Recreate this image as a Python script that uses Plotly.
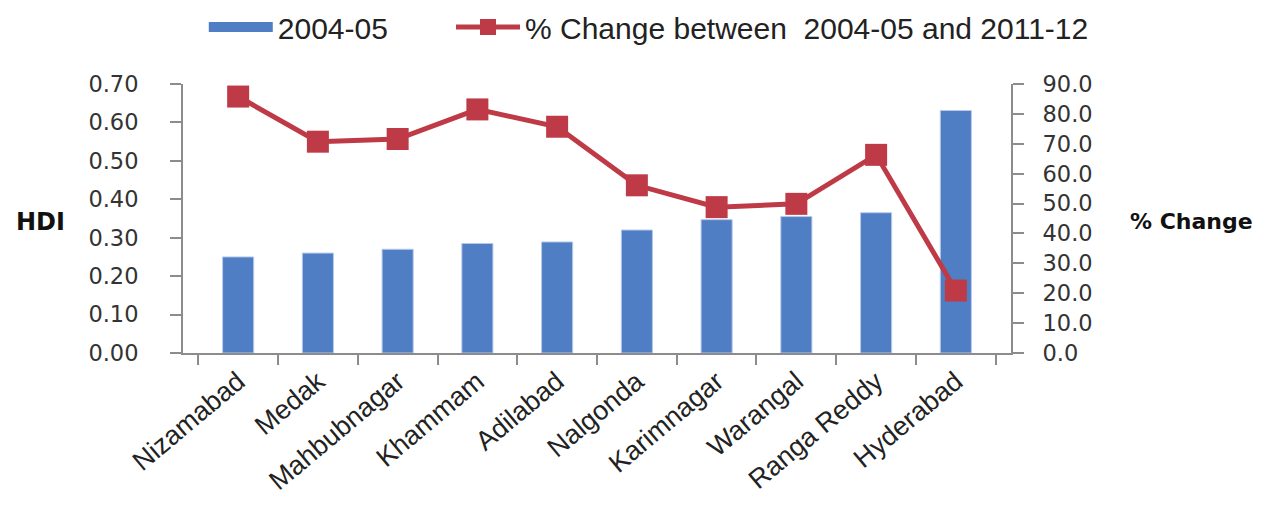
import plotly.graph_objects as go

districts = ["Nizamabad", "Medak", "Mahbubnagar", "Khammam", "Adilabad",
             "Nalgonda", "Karimnagar", "Warangal", "Ranga Reddy", "Hyderabad"]
hdi_2004_05 = [0.25, 0.26, 0.27, 0.285, 0.289, 0.32, 0.347, 0.355, 0.365, 0.631]
pct_change = [85.8, 70.7, 71.6, 81.5, 75.7, 56.1, 48.8, 49.9, 66.3, 20.9]
left_ticks = [0, 0.1, 0.2, 0.3, 0.4, 0.5, 0.6, 0.7]
right_ticks = [0, 10, 20, 30, 40, 50, 60, 70, 80, 90]

blue = "#4F7EC4"
red = "#BF3A47"
axis_col = "#8C8C8C"
tick_font = dict(family="DejaVu Sans", size=22.5, color="#333333")
legend_font = dict(family="Liberation Sans", size=30, color="#222222")

fig = go.Figure()
fig.add_trace(go.Bar(
    x=districts, y=hdi_2004_05, name="2004-05",
    marker=dict(color=blue, line=dict(color="#B7C9EA", width=1)),
    yaxis="y", showlegend=False,
))
# legend entry for the bars, drawn as a wide blue rectangle like the original
fig.add_trace(go.Scatter(
    x=[None], y=[None], name="2004-05", mode="lines",
    line=dict(color=blue, width=14), yaxis="y", legend="legend",
))
fig.add_trace(go.Scatter(
    x=districts, y=pct_change, name="% Change between  2004-05 and 2011-12",
    mode="lines+markers",
    line=dict(color=red, width=5),
    marker=dict(symbol="square", size=22, color=red),
    yaxis="y2", legend="legend2",
))

fig.update_layout(
    width=1255, height=495,
    margin=dict(l=175, r=252, t=76, b=150, autoexpand=False),
    paper_bgcolor="white", plot_bgcolor="white",
    bargap=0.61,
    showlegend=True,
    legend=dict(orientation="h", x=0.156, y=0.9616, yref="container", yanchor="middle",
                xanchor="left", xref="container", font=legend_font,
                itemwidth=64, tracegroupgap=0, bgcolor="rgba(0,0,0,0)"),
    legend2=dict(orientation="h", x=0.353, y=0.9616, yref="container", yanchor="middle",
                 xanchor="left", xref="container", font=legend_font,
                 itemwidth=64, tracegroupgap=0, bgcolor="rgba(0,0,0,0)"),
    xaxis=dict(
        type="category", tickangle=-40, automargin=False,
        showline=True, linecolor=axis_col, linewidth=2,
        ticks="outside", ticklen=10, tickcolor=axis_col, tickwidth=2,
        tickson="boundaries", showgrid=False,
        tickfont=dict(family="Liberation Sans", size=27, color="#222222"),
    ),
    yaxis=dict(
        range=[0, 0.7], tickvals=left_ticks, tickformat=".2f", automargin=False,
        showline=True, linecolor=axis_col, linewidth=2,
        ticks="outside", ticklen=11, tickcolor=axis_col, tickwidth=2,
        showgrid=False, zeroline=False, tickfont=tick_font,
        ticklabelstandoff=27,
    ),
    yaxis2=dict(
        range=[0, 90], tickvals=right_ticks, tickformat=".1f", automargin=False,
        overlaying="y", side="right",
        showline=True, linecolor=axis_col, linewidth=2,
        ticks="outside", ticklen=11, tickcolor=axis_col, tickwidth=2,
        showgrid=False, zeroline=False, tickfont=tick_font,
        ticklabelstandoff=14,
    ),
    annotations=[
        dict(text="<b>HDI</b>", xref="paper", yref="paper", x=-0.204, y=0.4875,
             xanchor="left", yanchor="middle", showarrow=False,
             font=dict(family="DejaVu Sans", size=24, color="#111111")),
        dict(text="<b>% Change</b>", xref="paper", yref="paper", x=1.141, y=0.4875,
             xanchor="left", yanchor="middle", showarrow=False,
             font=dict(family="DejaVu Sans", size=22, color="#111111")),
    ],
)

fig.write_html("out.html")
